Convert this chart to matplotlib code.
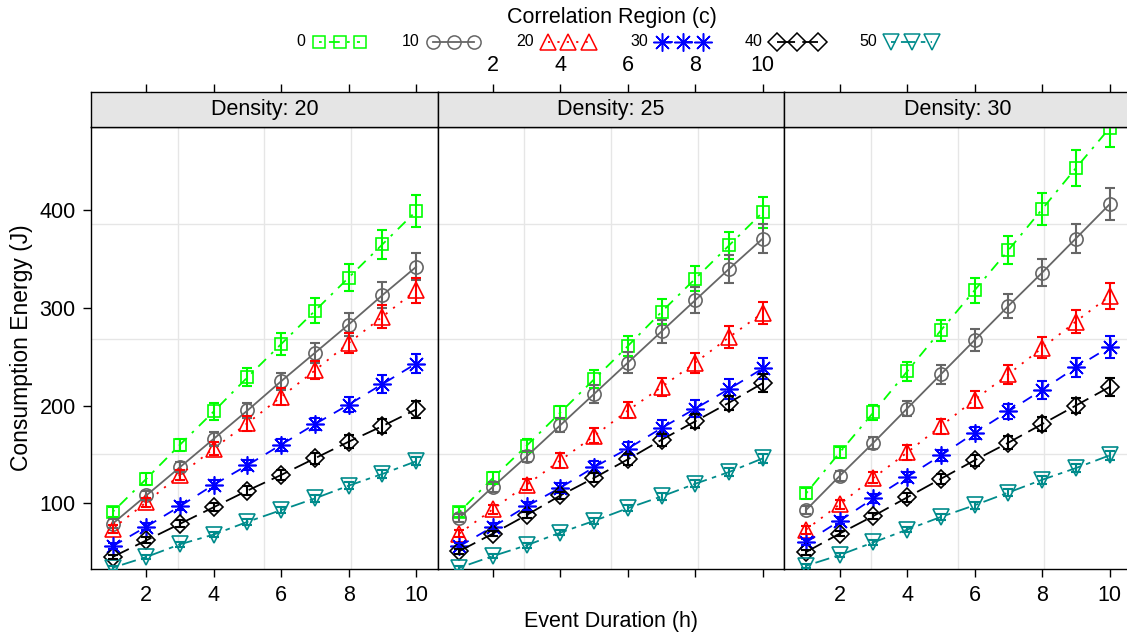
import numpy as np
import matplotlib
matplotlib.use("Agg")
import matplotlib.pyplot as plt

plt.rcParams['font.family'] = ['Liberation Sans', 'DejaVu Sans']

# event duration (h)
hours = [1, 2, 3, 4, 5, 6, 7, 8, 9, 10]
densities = [20, 25, 30]
regions = [0, 10, 20, 30, 40, 50]

# mean consumption energy (J), one row per correlation region
energy_d20 = [
    [91, 125, 160, 194, 229, 263, 297, 331, 365, 399],
    [79, 108, 137, 166, 195, 225, 254, 283, 313, 342],
    [74, 101, 129, 156, 182, 209, 236, 264, 291, 318],
    [56, 76, 97, 119, 139, 160, 181, 201, 222, 243],
    [45, 62, 79, 96, 113, 129, 146, 163, 179, 196],
    [34, 45, 58, 68, 81, 93, 105, 118, 130, 143],
]
energy_d25 = [
    [91, 126, 159, 193, 227, 261, 296, 330, 364, 398],
    [85, 117, 148, 180, 212, 244, 276, 308, 340, 371],
    [69, 94, 119, 144, 169, 195, 219, 244, 270, 295],
    [56, 76, 97, 116, 137, 156, 177, 197, 217, 238],
    [51, 69, 88, 108, 126, 145, 165, 184, 203, 223],
    [34, 46, 57, 70, 82, 95, 107, 120, 132, 146],
]
energy_d30 = [
    [110, 152, 193, 235, 277, 318, 359, 401, 443, 484],
    [93, 128, 162, 197, 232, 267, 302, 336, 371, 406],
    [73, 99, 126, 152, 179, 206, 232, 259, 286, 312],
    [60, 82, 105, 127, 149, 172, 194, 216, 239, 260],
    [50, 69, 87, 106, 125, 144, 162, 181, 200, 219],
    [36, 47, 60, 73, 86, 98, 111, 124, 136, 149],
]

# error bar half-widths (J)
err_d20 = [
    [5.5, 6, 6, 8.4, 9.1, 10.8, 12.9, 14, 15.1, 16.2],
    [4.5, 5, 5.5, 7, 7.7, 8.7, 10.1, 11.7, 13.4, 13.9],
    [4, 4.5, 5.5, 6.6, 7.7, 8.7, 9.2, 10.4, 11.7, 12.8],
    [3, 3.5, 4, 4.5, 5, 6, 6.5, 7.7, 8.9, 9.6],
    [2.5, 3, 3.5, 4, 4.5, 5, 5.5, 6.5, 7, 8.2],
    [2, 2.2, 2.5, 2.8, 3, 3.2, 3.5, 3.8, 4, 4.3],
]
err_d25 = [
    [5.5, 6, 6.5, 6.8, 9, 10.6, 12.7, 13.1, 14, 15.7],
    [4.5, 5, 6, 7.5, 9, 11, 12, 13, 14.5, 15],
    [4, 4.5, 5.5, 7.5, 7.7, 8.2, 9, 10.2, 11.4, 11.4],
    [3, 3.5, 4, 5, 6, 7, 8.5, 8.9, 10.2, 11.2],
    [2.5, 3, 3.5, 4, 4.5, 5.5, 6, 7, 7.2, 9.4],
    [2, 2.2, 2.5, 2.8, 3, 3.2, 3.5, 3.8, 4, 4.3],
]
err_d30 = [
    [6, 6, 7.7, 9.5, 10.5, 13.1, 14.3, 16.4, 18.4, 19.5],
    [4, 5, 6, 7.9, 9.4, 10.9, 12.5, 13.6, 15, 16.5],
    [4, 4.5, 5.5, 7.2, 7.7, 8.7, 9.4, 10.7, 11.5, 13],
    [3, 3.5, 4.5, 5, 6, 6.5, 7.7, 8.9, 9.7, 10.9],
    [2.5, 3, 3.5, 4.5, 5, 5.5, 6.5, 7, 7.7, 9],
    [2, 2.3, 2.6, 2.9, 3.2, 3.5, 3.8, 4, 4.3, 4.6],
]

energy = [energy_d20, energy_d25, energy_d30]
errors = [err_d20, err_d25, err_d30]

colors = ['#00FF00', '#666666', '#FF0000', '#0000FF', '#000000', '#008B8B']
markers = ['s', 'o', '^', (8, 2, 0), 'D', 'v']
msizes = [8.5, 9.5, 11, 13, 9, 11]
dashes = [(0, (1.5, 4, 6, 4)), '-', (0, (1.2, 4)), (0, (6, 5)),
          (0, (10, 4)), (0, (2.5, 3, 8, 3))]

W, H = 1127, 636
fig = plt.figure(figsize=(W / 100, H / 100), dpi=100)

xlim = (0.36, 10.64)
ylim = (32.4, 485.5)
ygrid = [150.2, 268.0, 386.0]
xgrid = [xlim[0] + k * (xlim[1] - xlim[0]) / 4 for k in (1, 2, 3)]

left, pw = 91 / W, 346.7 / W
bottom, ph = 66.7 / H, 442.6 / H
sh = 35.2 / H
fs = 15.5

for i, dens in enumerate(densities):
    x0 = left + i * pw
    ax = fig.add_axes([x0, bottom, pw, ph])
    ax.set_xlim(*xlim)
    ax.set_ylim(*ylim)
    for g in xgrid:
        ax.axvline(g, color='#E6E6E6', lw=1, zorder=0)
    for g in ygrid:
        ax.axhline(g, color='#E6E6E6', lw=1, zorder=0)

    for j in range(len(regions)):
        y = energy[i][j]
        e = errors[i][j]
        ax.plot(hours, y, color=colors[j], ls=dashes[j], lw=1.3,
                marker=markers[j], ms=msizes[j], mfc='none',
                mec=colors[j], mew=1.2, zorder=3)
        ax.errorbar(hours, y, yerr=e, fmt='none', ecolor=colors[j],
                    elinewidth=1.5, capsize=3.5, capthick=1.5, zorder=4)

    ax.set_xticks([2, 4, 6, 8, 10])
    ax.tick_params(axis='x', direction='out', length=6, width=1,
                   labelsize=fs, pad=5, labelbottom=(i != 1))
    if i == 0:
        ax.set_yticks([100, 200, 300, 400])
        ax.tick_params(axis='y', direction='out', length=6, width=1,
                       labelsize=fs, pad=5)
        ax.set_ylabel('Consumption Energy (J)', fontsize=16.5, labelpad=5)
    else:
        ax.set_yticks([])
    for s in ax.spines.values():
        s.set_linewidth(1)

    # strip with the density value, top axis ticks above it
    sa = fig.add_axes([x0, bottom + ph, pw, sh])
    sa.set_facecolor('#E5E5E5')
    sa.set_xlim(*xlim)
    sa.set_yticks([])
    sa.set_xticks([2, 4, 6, 8, 10])
    sa.tick_params(axis='x', direction='out', length=6, width=1,
                   labelsize=fs, pad=5, bottom=False, labelbottom=False,
                   top=True, labeltop=(i == 1))
    sa.text(0.5, 0.5, f'Density: {dens}', transform=sa.transAxes,
            ha='center', va='center', fontsize=fs)
    for s in sa.spines.values():
        s.set_linewidth(1)

fig.text(0.5 * (left + (left + 3 * pw)), 14 / H, 'Event Duration (h)',
         ha='center', va='center', fontsize=fs)

# legend across the top
lax = fig.add_axes([0, 0, 1, 1])
lax.set_xlim(0, W)
lax.set_ylim(H, 0)
lax.axis('off')
lax.text(612, 18, 'Correlation Region (c)', ha='center', va='center',
         fontsize=fs)
for j, reg in enumerate(regions):
    base = 319 + 114.4 * j
    kx = [base, base + 20.5, base + 41]
    lax.text(base - 14, 42, str(reg), ha='right', va='center', fontsize=11.5)
    lax.plot(kx, [42, 42, 42], color=colors[j], ls=dashes[j], lw=1.3,
             marker=markers[j], ms=msizes[j], mfc='none',
             mec=colors[j], mew=1.1)

fig.savefig('out.png', dpi=100)
